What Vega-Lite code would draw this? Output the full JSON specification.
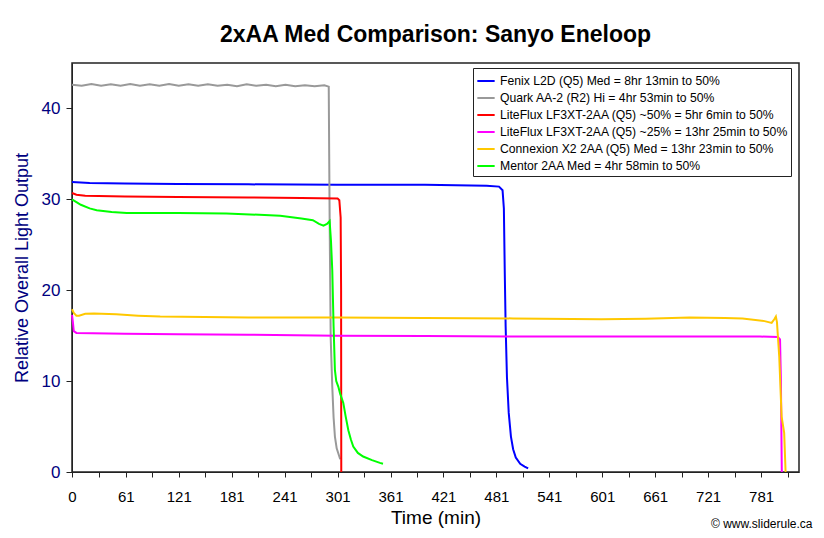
{
  "$schema": "https://vega.github.io/schema/vega-lite/v6.json",
  "width": 727,
  "height": 409,
  "autosize": {"type": "none"},
  "padding": {"left": 72, "top": 63, "right": 25, "bottom": 66},
  "background": "white",
  "title": {"text": "2xAA Med Comparison: Sanyo Eneloop", "font": "Liberation Sans", "fontSize": 23, "fontWeight": "bold", "color": "black", "anchor": "middle", "frame": "group", "offset": 16},
  "config": {
    "view": {"stroke": "#222", "strokeWidth": 1.5},
    "axis": {"grid": false, "labelFont": "Liberation Sans", "titleFont": "Liberation Sans", "domainColor": "#222", "tickColor": "#222"}
  },
  "datasets": {
    "curves": [
      {"s": "Fenix L2D (Q5) Med = 8hr 13min to 50%", "t": 0, "v": 31.9},
      {"s": "Fenix L2D (Q5) Med = 8hr 13min to 50%", "t": 20, "v": 31.8},
      {"s": "Fenix L2D (Q5) Med = 8hr 13min to 50%", "t": 60, "v": 31.75},
      {"s": "Fenix L2D (Q5) Med = 8hr 13min to 50%", "t": 120, "v": 31.7},
      {"s": "Fenix L2D (Q5) Med = 8hr 13min to 50%", "t": 200, "v": 31.65},
      {"s": "Fenix L2D (Q5) Med = 8hr 13min to 50%", "t": 300, "v": 31.6},
      {"s": "Fenix L2D (Q5) Med = 8hr 13min to 50%", "t": 400, "v": 31.6},
      {"s": "Fenix L2D (Q5) Med = 8hr 13min to 50%", "t": 470, "v": 31.5},
      {"s": "Fenix L2D (Q5) Med = 8hr 13min to 50%", "t": 484, "v": 31.4},
      {"s": "Fenix L2D (Q5) Med = 8hr 13min to 50%", "t": 488, "v": 31.0},
      {"s": "Fenix L2D (Q5) Med = 8hr 13min to 50%", "t": 489.5, "v": 29},
      {"s": "Fenix L2D (Q5) Med = 8hr 13min to 50%", "t": 490.5, "v": 22},
      {"s": "Fenix L2D (Q5) Med = 8hr 13min to 50%", "t": 491.5, "v": 16},
      {"s": "Fenix L2D (Q5) Med = 8hr 13min to 50%", "t": 493, "v": 10.4},
      {"s": "Fenix L2D (Q5) Med = 8hr 13min to 50%", "t": 495, "v": 6.5},
      {"s": "Fenix L2D (Q5) Med = 8hr 13min to 50%", "t": 497.5, "v": 3.9},
      {"s": "Fenix L2D (Q5) Med = 8hr 13min to 50%", "t": 500, "v": 2.5},
      {"s": "Fenix L2D (Q5) Med = 8hr 13min to 50%", "t": 503, "v": 1.6},
      {"s": "Fenix L2D (Q5) Med = 8hr 13min to 50%", "t": 508, "v": 0.9},
      {"s": "Fenix L2D (Q5) Med = 8hr 13min to 50%", "t": 513, "v": 0.6},
      {"s": "Fenix L2D (Q5) Med = 8hr 13min to 50%", "t": 517, "v": 0.4},
      {"s": "Quark AA-2 (R2) Hi = 4hr 53min to 50%", "t": 0, "v": 42.6},
      {"s": "Quark AA-2 (R2) Hi = 4hr 53min to 50%", "t": 11, "v": 42.5},
      {"s": "Quark AA-2 (R2) Hi = 4hr 53min to 50%", "t": 22, "v": 42.7},
      {"s": "Quark AA-2 (R2) Hi = 4hr 53min to 50%", "t": 33, "v": 42.5},
      {"s": "Quark AA-2 (R2) Hi = 4hr 53min to 50%", "t": 44, "v": 42.65},
      {"s": "Quark AA-2 (R2) Hi = 4hr 53min to 50%", "t": 55, "v": 42.5},
      {"s": "Quark AA-2 (R2) Hi = 4hr 53min to 50%", "t": 66, "v": 42.7},
      {"s": "Quark AA-2 (R2) Hi = 4hr 53min to 50%", "t": 77, "v": 42.5},
      {"s": "Quark AA-2 (R2) Hi = 4hr 53min to 50%", "t": 88, "v": 42.65},
      {"s": "Quark AA-2 (R2) Hi = 4hr 53min to 50%", "t": 99, "v": 42.5},
      {"s": "Quark AA-2 (R2) Hi = 4hr 53min to 50%", "t": 110, "v": 42.7},
      {"s": "Quark AA-2 (R2) Hi = 4hr 53min to 50%", "t": 121, "v": 42.5},
      {"s": "Quark AA-2 (R2) Hi = 4hr 53min to 50%", "t": 132, "v": 42.65},
      {"s": "Quark AA-2 (R2) Hi = 4hr 53min to 50%", "t": 143, "v": 42.5},
      {"s": "Quark AA-2 (R2) Hi = 4hr 53min to 50%", "t": 154, "v": 42.65},
      {"s": "Quark AA-2 (R2) Hi = 4hr 53min to 50%", "t": 165, "v": 42.5},
      {"s": "Quark AA-2 (R2) Hi = 4hr 53min to 50%", "t": 176, "v": 42.6},
      {"s": "Quark AA-2 (R2) Hi = 4hr 53min to 50%", "t": 187, "v": 42.45},
      {"s": "Quark AA-2 (R2) Hi = 4hr 53min to 50%", "t": 198, "v": 42.65},
      {"s": "Quark AA-2 (R2) Hi = 4hr 53min to 50%", "t": 209, "v": 42.5},
      {"s": "Quark AA-2 (R2) Hi = 4hr 53min to 50%", "t": 220, "v": 42.6},
      {"s": "Quark AA-2 (R2) Hi = 4hr 53min to 50%", "t": 231, "v": 42.45},
      {"s": "Quark AA-2 (R2) Hi = 4hr 53min to 50%", "t": 242, "v": 42.6},
      {"s": "Quark AA-2 (R2) Hi = 4hr 53min to 50%", "t": 253, "v": 42.45},
      {"s": "Quark AA-2 (R2) Hi = 4hr 53min to 50%", "t": 264, "v": 42.55},
      {"s": "Quark AA-2 (R2) Hi = 4hr 53min to 50%", "t": 275, "v": 42.45},
      {"s": "Quark AA-2 (R2) Hi = 4hr 53min to 50%", "t": 286, "v": 42.55},
      {"s": "Quark AA-2 (R2) Hi = 4hr 53min to 50%", "t": 291, "v": 42.4},
      {"s": "Quark AA-2 (R2) Hi = 4hr 53min to 50%", "t": 291.5, "v": 35},
      {"s": "Quark AA-2 (R2) Hi = 4hr 53min to 50%", "t": 292, "v": 28},
      {"s": "Quark AA-2 (R2) Hi = 4hr 53min to 50%", "t": 293.2, "v": 14.8},
      {"s": "Quark AA-2 (R2) Hi = 4hr 53min to 50%", "t": 295, "v": 9.4},
      {"s": "Quark AA-2 (R2) Hi = 4hr 53min to 50%", "t": 296.5, "v": 6},
      {"s": "Quark AA-2 (R2) Hi = 4hr 53min to 50%", "t": 298, "v": 3.9},
      {"s": "Quark AA-2 (R2) Hi = 4hr 53min to 50%", "t": 300, "v": 2.6},
      {"s": "Quark AA-2 (R2) Hi = 4hr 53min to 50%", "t": 303, "v": 1.7},
      {"s": "Quark AA-2 (R2) Hi = 4hr 53min to 50%", "t": 304, "v": 1.4},
      {"s": "LiteFlux LF3XT-2AA (Q5) ~50% = 5hr 6min to 50%", "t": 0, "v": 30.7},
      {"s": "LiteFlux LF3XT-2AA (Q5) ~50% = 5hr 6min to 50%", "t": 5, "v": 30.5},
      {"s": "LiteFlux LF3XT-2AA (Q5) ~50% = 5hr 6min to 50%", "t": 15, "v": 30.4},
      {"s": "LiteFlux LF3XT-2AA (Q5) ~50% = 5hr 6min to 50%", "t": 60, "v": 30.3},
      {"s": "LiteFlux LF3XT-2AA (Q5) ~50% = 5hr 6min to 50%", "t": 120, "v": 30.25},
      {"s": "LiteFlux LF3XT-2AA (Q5) ~50% = 5hr 6min to 50%", "t": 200, "v": 30.2},
      {"s": "LiteFlux LF3XT-2AA (Q5) ~50% = 5hr 6min to 50%", "t": 260, "v": 30.15},
      {"s": "LiteFlux LF3XT-2AA (Q5) ~50% = 5hr 6min to 50%", "t": 301, "v": 30.1},
      {"s": "LiteFlux LF3XT-2AA (Q5) ~50% = 5hr 6min to 50%", "t": 303, "v": 29.9},
      {"s": "LiteFlux LF3XT-2AA (Q5) ~50% = 5hr 6min to 50%", "t": 304.5, "v": 28},
      {"s": "LiteFlux LF3XT-2AA (Q5) ~50% = 5hr 6min to 50%", "t": 305, "v": 20},
      {"s": "LiteFlux LF3XT-2AA (Q5) ~50% = 5hr 6min to 50%", "t": 305.2, "v": 0},
      {"s": "LiteFlux LF3XT-2AA (Q5) ~25% = 13hr 25min to 50%", "t": 0, "v": 17.3},
      {"s": "LiteFlux LF3XT-2AA (Q5) ~25% = 13hr 25min to 50%", "t": 1, "v": 16.5},
      {"s": "LiteFlux LF3XT-2AA (Q5) ~25% = 13hr 25min to 50%", "t": 2, "v": 15.5},
      {"s": "LiteFlux LF3XT-2AA (Q5) ~25% = 13hr 25min to 50%", "t": 5, "v": 15.3},
      {"s": "LiteFlux LF3XT-2AA (Q5) ~25% = 13hr 25min to 50%", "t": 60, "v": 15.2},
      {"s": "LiteFlux LF3XT-2AA (Q5) ~25% = 13hr 25min to 50%", "t": 120, "v": 15.15},
      {"s": "LiteFlux LF3XT-2AA (Q5) ~25% = 13hr 25min to 50%", "t": 200, "v": 15.1},
      {"s": "LiteFlux LF3XT-2AA (Q5) ~25% = 13hr 25min to 50%", "t": 300, "v": 15.0},
      {"s": "LiteFlux LF3XT-2AA (Q5) ~25% = 13hr 25min to 50%", "t": 400, "v": 14.95},
      {"s": "LiteFlux LF3XT-2AA (Q5) ~25% = 13hr 25min to 50%", "t": 500, "v": 14.9},
      {"s": "LiteFlux LF3XT-2AA (Q5) ~25% = 13hr 25min to 50%", "t": 600, "v": 14.9},
      {"s": "LiteFlux LF3XT-2AA (Q5) ~25% = 13hr 25min to 50%", "t": 700, "v": 14.9},
      {"s": "LiteFlux LF3XT-2AA (Q5) ~25% = 13hr 25min to 50%", "t": 780, "v": 14.9},
      {"s": "LiteFlux LF3XT-2AA (Q5) ~25% = 13hr 25min to 50%", "t": 800, "v": 14.85},
      {"s": "LiteFlux LF3XT-2AA (Q5) ~25% = 13hr 25min to 50%", "t": 802.5, "v": 14.6},
      {"s": "LiteFlux LF3XT-2AA (Q5) ~25% = 13hr 25min to 50%", "t": 803.5, "v": 10},
      {"s": "LiteFlux LF3XT-2AA (Q5) ~25% = 13hr 25min to 50%", "t": 804, "v": 5},
      {"s": "LiteFlux LF3XT-2AA (Q5) ~25% = 13hr 25min to 50%", "t": 804.5, "v": 0},
      {"s": "Connexion X2 2AA (Q5) Med = 13hr 23min to 50%", "t": 0, "v": 17.9},
      {"s": "Connexion X2 2AA (Q5) Med = 13hr 23min to 50%", "t": 2, "v": 17.5},
      {"s": "Connexion X2 2AA (Q5) Med = 13hr 23min to 50%", "t": 5, "v": 17.2},
      {"s": "Connexion X2 2AA (Q5) Med = 13hr 23min to 50%", "t": 8, "v": 17.2},
      {"s": "Connexion X2 2AA (Q5) Med = 13hr 23min to 50%", "t": 15, "v": 17.4},
      {"s": "Connexion X2 2AA (Q5) Med = 13hr 23min to 50%", "t": 25, "v": 17.45},
      {"s": "Connexion X2 2AA (Q5) Med = 13hr 23min to 50%", "t": 50, "v": 17.35},
      {"s": "Connexion X2 2AA (Q5) Med = 13hr 23min to 50%", "t": 75, "v": 17.2},
      {"s": "Connexion X2 2AA (Q5) Med = 13hr 23min to 50%", "t": 100, "v": 17.1},
      {"s": "Connexion X2 2AA (Q5) Med = 13hr 23min to 50%", "t": 150, "v": 17.05},
      {"s": "Connexion X2 2AA (Q5) Med = 13hr 23min to 50%", "t": 200, "v": 17.0},
      {"s": "Connexion X2 2AA (Q5) Med = 13hr 23min to 50%", "t": 300, "v": 17.0},
      {"s": "Connexion X2 2AA (Q5) Med = 13hr 23min to 50%", "t": 400, "v": 16.95},
      {"s": "Connexion X2 2AA (Q5) Med = 13hr 23min to 50%", "t": 500, "v": 16.9},
      {"s": "Connexion X2 2AA (Q5) Med = 13hr 23min to 50%", "t": 600, "v": 16.8},
      {"s": "Connexion X2 2AA (Q5) Med = 13hr 23min to 50%", "t": 650, "v": 16.85},
      {"s": "Connexion X2 2AA (Q5) Med = 13hr 23min to 50%", "t": 700, "v": 17.0},
      {"s": "Connexion X2 2AA (Q5) Med = 13hr 23min to 50%", "t": 740, "v": 16.95},
      {"s": "Connexion X2 2AA (Q5) Med = 13hr 23min to 50%", "t": 760, "v": 16.9},
      {"s": "Connexion X2 2AA (Q5) Med = 13hr 23min to 50%", "t": 785, "v": 16.6},
      {"s": "Connexion X2 2AA (Q5) Med = 13hr 23min to 50%", "t": 793, "v": 16.4},
      {"s": "Connexion X2 2AA (Q5) Med = 13hr 23min to 50%", "t": 796, "v": 16.8},
      {"s": "Connexion X2 2AA (Q5) Med = 13hr 23min to 50%", "t": 797.8, "v": 17.1},
      {"s": "Connexion X2 2AA (Q5) Med = 13hr 23min to 50%", "t": 799, "v": 16.5},
      {"s": "Connexion X2 2AA (Q5) Med = 13hr 23min to 50%", "t": 801.6, "v": 12.7},
      {"s": "Connexion X2 2AA (Q5) Med = 13hr 23min to 50%", "t": 804.3, "v": 6.1},
      {"s": "Connexion X2 2AA (Q5) Med = 13hr 23min to 50%", "t": 807.2, "v": 4.3},
      {"s": "Connexion X2 2AA (Q5) Med = 13hr 23min to 50%", "t": 808.8, "v": 0},
      {"s": "Mentor 2AA Med = 4hr 58min to 50%", "t": 0, "v": 30.0},
      {"s": "Mentor 2AA Med = 4hr 58min to 50%", "t": 5, "v": 29.7},
      {"s": "Mentor 2AA Med = 4hr 58min to 50%", "t": 10, "v": 29.4},
      {"s": "Mentor 2AA Med = 4hr 58min to 50%", "t": 20, "v": 29.0},
      {"s": "Mentor 2AA Med = 4hr 58min to 50%", "t": 28, "v": 28.8},
      {"s": "Mentor 2AA Med = 4hr 58min to 50%", "t": 45, "v": 28.6},
      {"s": "Mentor 2AA Med = 4hr 58min to 50%", "t": 62, "v": 28.5},
      {"s": "Mentor 2AA Med = 4hr 58min to 50%", "t": 120, "v": 28.5},
      {"s": "Mentor 2AA Med = 4hr 58min to 50%", "t": 175, "v": 28.45},
      {"s": "Mentor 2AA Med = 4hr 58min to 50%", "t": 236, "v": 28.2},
      {"s": "Mentor 2AA Med = 4hr 58min to 50%", "t": 260, "v": 27.9},
      {"s": "Mentor 2AA Med = 4hr 58min to 50%", "t": 273, "v": 27.7},
      {"s": "Mentor 2AA Med = 4hr 58min to 50%", "t": 280, "v": 27.3},
      {"s": "Mentor 2AA Med = 4hr 58min to 50%", "t": 285, "v": 27.1},
      {"s": "Mentor 2AA Med = 4hr 58min to 50%", "t": 289, "v": 27.3},
      {"s": "Mentor 2AA Med = 4hr 58min to 50%", "t": 292, "v": 27.6},
      {"s": "Mentor 2AA Med = 4hr 58min to 50%", "t": 293.5, "v": 25.5},
      {"s": "Mentor 2AA Med = 4hr 58min to 50%", "t": 295, "v": 22.2},
      {"s": "Mentor 2AA Med = 4hr 58min to 50%", "t": 296.5, "v": 16},
      {"s": "Mentor 2AA Med = 4hr 58min to 50%", "t": 298, "v": 11.2},
      {"s": "Mentor 2AA Med = 4hr 58min to 50%", "t": 299.5, "v": 10},
      {"s": "Mentor 2AA Med = 4hr 58min to 50%", "t": 301.8, "v": 9.4},
      {"s": "Mentor 2AA Med = 4hr 58min to 50%", "t": 304, "v": 8.6},
      {"s": "Mentor 2AA Med = 4hr 58min to 50%", "t": 307.5, "v": 7.6},
      {"s": "Mentor 2AA Med = 4hr 58min to 50%", "t": 310, "v": 6.2},
      {"s": "Mentor 2AA Med = 4hr 58min to 50%", "t": 313.2, "v": 4.6},
      {"s": "Mentor 2AA Med = 4hr 58min to 50%", "t": 316, "v": 3.6},
      {"s": "Mentor 2AA Med = 4hr 58min to 50%", "t": 318.8, "v": 2.8},
      {"s": "Mentor 2AA Med = 4hr 58min to 50%", "t": 324, "v": 2.1},
      {"s": "Mentor 2AA Med = 4hr 58min to 50%", "t": 330, "v": 1.7},
      {"s": "Mentor 2AA Med = 4hr 58min to 50%", "t": 340, "v": 1.3},
      {"s": "Mentor 2AA Med = 4hr 58min to 50%", "t": 349, "v": 1.0},
      {"s": "Mentor 2AA Med = 4hr 58min to 50%", "t": 352.5, "v": 0.9}
    ]
  },
  "data": {"name": "curves"},
  "layer": [
    {
      "mark": {"type": "line", "strokeWidth": 2, "interpolate": "linear"},
      "encoding": {
        "x": {"field": "t", "type": "quantitative", "scale": {"domain": [0, 824], "nice": false, "zero": false},
          "axis": {"title": "Time (min)", "titleFontSize": 19, "titleFontWeight": "normal", "titleColor": "black", "titlePadding": 4,
            "values": [0, 30.5, 61, 91, 121, 151, 181, 211, 241, 271, 301, 331, 361, 391, 421, 451, 481, 511, 541, 571, 601, 631, 661, 691, 721, 751, 781, 811],
            "labelExpr": "datum.value == 0 || (datum.value - 1) % 60 == 0 ? datum.label : ''",
            "labelFontSize": 15, "labelColor": "black", "labelOverlap": false, "labelFlush": false, "labelPadding": 12, "tickSize": 5}},
        "y": {"field": "v", "type": "quantitative", "scale": {"domain": [0, 45], "nice": false},
          "axis": {"title": "Relative Overall Light Output", "titleFontSize": 18, "titleFontWeight": "normal", "titleColor": "#000080", "titlePadding": 10,
            "values": [0, 10, 20, 30, 40], "labelFontSize": 17, "labelColor": "#000080", "labelPadding": 6, "tickSize": 6}},
        "color": {"field": "s", "type": "nominal",
          "scale": {
            "domain": ["Fenix L2D (Q5) Med = 8hr 13min to 50%", "Quark AA-2 (R2) Hi = 4hr 53min to 50%", "LiteFlux LF3XT-2AA (Q5) ~50% = 5hr 6min to 50%", "LiteFlux LF3XT-2AA (Q5) ~25% = 13hr 25min to 50%", "Connexion X2 2AA (Q5) Med = 13hr 23min to 50%", "Mentor 2AA Med = 4hr 58min to 50%"],
            "range": ["#0000FF", "#999999", "#FF0000", "#FF00FF", "#FFC800", "#00FF00"]},
          "legend": {"title": null, "orient": "none", "legendX": 401, "legendY": 5, "fillColor": "white", "strokeColor": "#222", "padding": 3,
            "symbolType": "stroke", "symbolSize": 300, "symbolStrokeWidth": 2, "labelFont": "Liberation Sans", "labelFontSize": 12.2, "labelColor": "black", "labelLimit": 0, "labelOffset": 4, "rowPadding": 0, "cornerRadius": 0}}
      }
    },
    {
      "mark": {"type": "point", "opacity": 0},
      "encoding": {
        "x": {"field": "t", "type": "quantitative",
          "axis": {"orient": "bottom", "title": "© www.sliderule.ca", "labels": false, "ticks": false, "domain": false, "titleFontSize": 12, "titleFontWeight": "normal", "titleColor": "black", "titleAlign": "right", "titleX": 740, "titleY": 55, "titleBaseline": "alphabetic"}}
      }
    }
  ],
  "resolve": {"axis": {"x": "independent"}}
}
